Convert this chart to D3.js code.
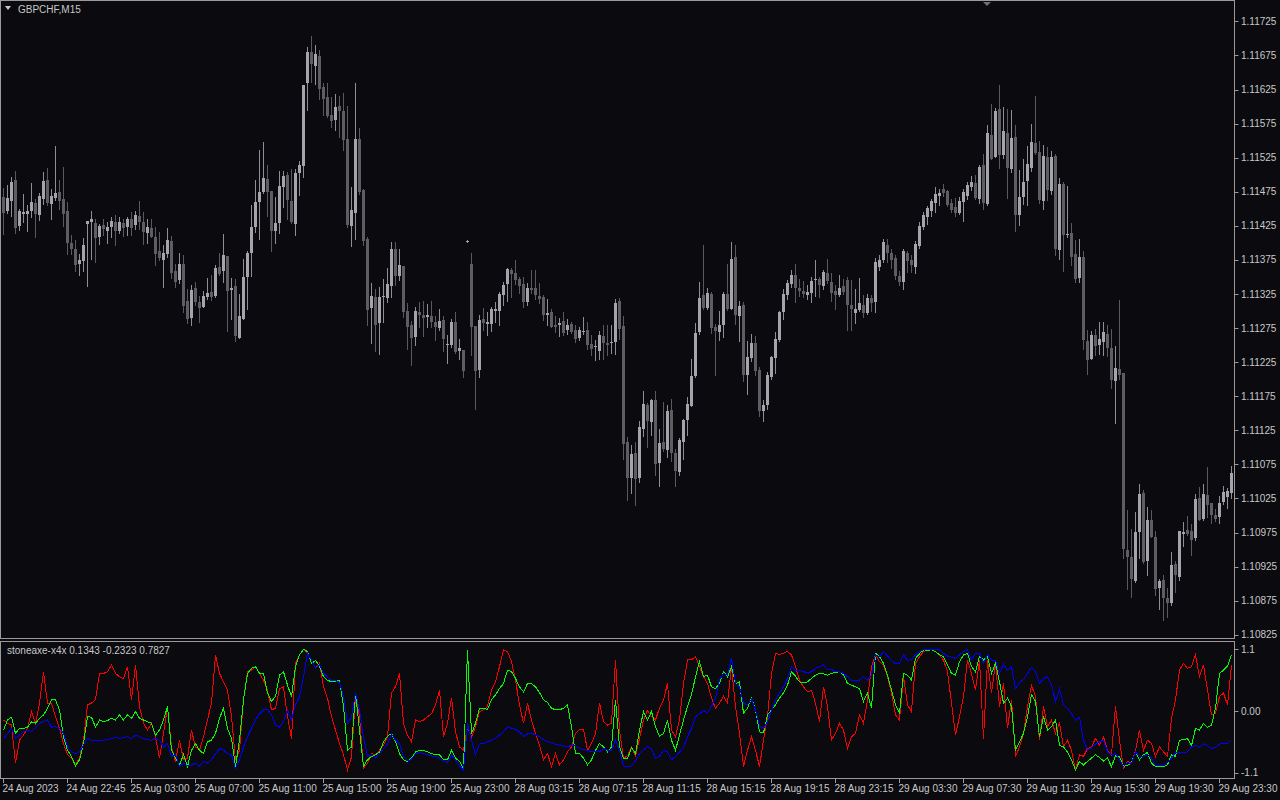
<!DOCTYPE html>
<html><head><meta charset="utf-8">
<script src="https://cdn.jsdelivr.net/npm/d3@7"></script>
<style>html,body{margin:0;padding:0;background:#0a0a0f;overflow:hidden}svg{display:block}</style>
</head><body><svg id="c" width="1280" height="800"></svg>
<script>
const symbol = "GBPCHF,M15";
const indicatorName = "stoneaxe-x4x 0.1343 -0.2323 0.7827";
const open = [
1.11467,1.11447,1.11461,1.11492,1.11425,1.11442,1.11442,1.11447,1.11458,1.11441,
1.11464,1.11492,1.11457,1.11466,1.11475,1.11464,1.11447,1.11400,1.11391,1.11369,
1.11373,1.11428,1.11431,1.11429,1.11409,1.11426,1.11417,1.11423,1.11431,1.11417,
1.11429,1.11423,1.11435,1.11426,1.11439,1.11431,1.11414,1.11422,1.11409,1.11388,
1.11375,1.11384,1.11403,1.11359,1.11346,1.11369,1.11315,1.11290,1.11334,1.11313,
1.11306,1.11321,1.11328,1.11322,1.11365,1.11359,1.11381,1.11331,1.11337,1.11260,
1.11288,1.11350,1.11385,1.11423,1.11460,1.11475,1.11494,1.11476,1.11417,1.11429,
1.11482,1.11500,1.11461,1.11428,1.11502,1.11513,1.11634,1.11680,1.11659,1.11674,
1.11629,1.11614,1.11587,1.11580,1.11601,1.11593,1.11552,1.11425,1.11444,1.11552,
1.11478,1.11406,1.11304,1.11321,1.11282,1.11321,1.11319,1.11337,1.11391,1.11351,
1.11366,1.11300,1.11280,1.11262,1.11299,1.11294,1.11291,1.11293,1.11284,1.11275,
1.11287,1.11250,1.11250,1.11284,1.11241,1.11243,1.11402,1.11369,1.11278,1.11214,
1.11288,1.11281,1.11281,1.11300,1.11300,1.11324,1.11340,1.11360,1.11356,1.11347,
1.11340,1.11313,1.11334,1.11334,1.11322,1.11321,1.11294,1.11299,1.11280,1.11280,
1.11285,1.11272,1.11281,1.11272,1.11260,1.11269,1.11272,1.11252,1.11247,1.11241,
1.11263,1.11253,1.11253,1.11255,1.11315,1.11278,1.11108,1.11055,1.11092,1.11055,
1.11127,1.11162,1.11137,1.11170,1.11077,1.11108,1.11096,1.11155,1.11092,1.11064,
1.11108,1.11140,1.11161,1.11205,1.11269,1.11324,1.11304,1.11325,1.11277,1.11269,
1.11280,1.11325,1.11303,1.11379,1.11293,1.11309,1.11206,1.11231,1.11253,1.11214,
1.11153,1.11162,1.11203,1.11231,1.11258,1.11299,1.11324,1.11340,1.11353,1.11334,
1.11329,1.11324,1.11326,1.11346,1.11347,1.11337,1.11356,1.11343,1.11329,1.11324,
1.11337,1.11346,1.11309,1.11297,1.11302,1.11309,1.11297,1.11319,1.11313,1.11365,
1.11375,1.11397,1.11385,1.11378,1.11351,1.11343,1.11385,1.11375,1.11365,1.11395,
1.11423,1.11438,1.11447,1.11458,1.11469,1.11479,1.11476,1.11458,1.11453,1.11444,
1.11460,1.11469,1.11482,1.11488,1.11464,1.11514,1.11457,1.11558,1.11526,1.11596,
1.11529,1.11561,1.11508,1.11555,1.11441,1.11467,1.11491,1.11510,1.11546,1.11533,
1.11461,1.11526,1.11476,1.11527,1.11390,1.11486,1.11412,1.11414,1.11384,1.11348,
1.11379,1.11256,1.11230,1.11265,1.11250,1.11255,1.11266,1.11246,1.11197,1.11215,
1.11209,1.10950,1.10939,1.10904,1.10976,1.11033,1.10934,1.10994,1.10969,1.10894,
1.10906,1.10879,1.10872,1.10929,1.10910,1.10973,1.10979,1.10977,1.10967,1.11026,
1.10995,1.11030,1.11019,1.11001,1.10998,1.11020,1.11027,1.11033];
const high = [
1.11480,1.11485,1.11497,1.11505,1.11450,1.11472,1.11456,1.11488,1.11464,1.11473,
1.11504,1.11510,1.11479,1.11542,1.11492,1.11511,1.11460,1.11412,1.11404,1.11384,
1.11407,1.11432,1.11447,1.11435,1.11428,1.11435,1.11431,1.11438,1.11441,1.11438,
1.11435,1.11438,1.11445,1.11447,1.11461,1.11445,1.11435,1.11435,1.11423,1.11416,
1.11397,1.11422,1.11410,1.11369,1.11385,1.11382,1.11332,1.11338,1.11343,1.11322,
1.11329,1.11348,1.11353,1.11368,1.11385,1.11413,1.11381,1.11348,1.11347,1.11325,
1.11376,1.11388,1.11456,1.11492,1.11536,1.11548,1.11514,1.11476,1.11467,1.11505,
1.11505,1.11504,1.11508,1.11508,1.11520,1.11631,1.11687,1.11703,1.11690,1.11683,
1.11634,1.11634,1.11614,1.11618,1.11615,1.11620,1.11601,1.11482,1.11634,1.11568,
1.11479,1.11409,1.11341,1.11332,1.11335,1.11347,1.11363,1.11401,1.11401,1.11391,
1.11366,1.11312,1.11285,1.11306,1.11313,1.11315,1.11310,1.11315,1.11293,1.11303,
1.11293,1.11265,1.11288,1.11299,1.11259,1.11243,1.11404,1.11385,1.11278,1.11294,
1.11304,1.11299,1.11306,1.11313,1.11328,1.11343,1.11363,1.11363,1.11375,1.11350,
1.11350,1.11341,1.11360,1.11360,1.11341,1.11324,1.11318,1.11303,1.11293,1.11290,
1.11299,1.11288,1.11284,1.11280,1.11277,1.11291,1.11284,1.11265,1.11258,1.11271,
1.11280,1.11280,1.11280,1.11318,1.11319,1.11293,1.11115,1.11104,1.11108,1.11139,
1.11183,1.11165,1.11171,1.11183,1.11127,1.11167,1.11162,1.11171,1.11098,1.11114,
1.11142,1.11174,1.11230,1.11282,1.11343,1.11397,1.11334,1.11328,1.11281,1.11300,
1.11328,1.11369,1.11401,1.11397,1.11315,1.11313,1.11256,1.11266,1.11263,1.11218,
1.11170,1.11211,1.11234,1.11269,1.11300,1.11332,1.11346,1.11360,1.11369,1.11347,
1.11344,1.11338,1.11350,1.11375,1.11350,1.11360,1.11376,1.11356,1.11338,1.11353,
1.11347,1.11350,1.11346,1.11332,1.11348,1.11324,1.11325,1.11324,1.11378,1.11382,
1.11406,1.11406,1.11391,1.11382,1.11359,1.11391,1.11388,1.11382,1.11403,1.11431,
1.11445,1.11454,1.11464,1.11482,1.11479,1.11486,1.11478,1.11464,1.11466,1.11467,
1.11479,1.11489,1.11498,1.11500,1.11514,1.11530,1.11573,1.11604,1.11598,1.11631,
1.11599,1.11596,1.11595,1.11573,1.11507,1.11523,1.11542,1.11574,1.11615,1.11549,
1.11543,1.11541,1.11535,1.11530,1.11495,1.11489,1.11483,1.11429,1.11404,1.11406,
1.11388,1.11272,1.11271,1.11274,1.11284,1.11284,1.11280,1.11274,1.11249,1.11316,
1.11209,1.11008,1.10980,1.11005,1.11046,1.11038,1.11013,1.11008,1.10977,1.10907,
1.10913,1.10894,1.10947,1.10934,1.10977,1.10991,1.10999,1.10988,1.11032,1.11042,
1.11046,1.11071,1.11019,1.11010,1.11029,1.11043,1.11041,1.11073];
const low = [
1.11413,1.11444,1.11439,1.11414,1.11419,1.11431,1.11417,1.11438,1.11409,1.11434,
1.11457,1.11456,1.11435,1.11463,1.11450,1.11425,1.11384,1.11384,1.11359,1.11353,
1.11359,1.11337,1.11376,1.11372,1.11398,1.11412,1.11400,1.11409,1.11397,1.11414,
1.11410,1.11412,1.11412,1.11420,1.11420,1.11398,1.11400,1.11409,1.11368,1.11375,
1.11335,1.11379,1.11348,1.11335,1.11341,1.11299,1.11282,1.11280,1.11309,1.11284,
1.11306,1.11318,1.11316,1.11321,1.11353,1.11343,1.11271,1.11288,1.11256,1.11260,
1.11288,1.11303,1.11351,1.11416,1.11406,1.11473,1.11439,1.11388,1.11400,1.11414,
1.11453,1.11435,1.11429,1.11412,1.11470,1.11497,1.11595,1.11636,1.11633,1.11611,
1.11587,1.11585,1.11570,1.11565,1.11555,1.11536,1.11423,1.11395,1.11406,1.11472,
1.11397,1.11280,1.11253,1.11241,1.11237,1.11284,1.11313,1.11321,1.11338,1.11346,
1.11291,1.11244,1.11221,1.11250,1.11277,1.11263,1.11277,1.11277,1.11258,1.11272,
1.11241,1.11224,1.11247,1.11239,1.11230,1.11203,1.11401,1.11236,1.11156,1.11203,
1.11272,1.11265,1.11271,1.11284,1.11280,1.11309,1.11315,1.11321,1.11340,1.11326,
1.11306,1.11309,1.11326,1.11318,1.11312,1.11287,1.11280,1.11277,1.11269,1.11263,
1.11265,1.11266,1.11268,1.11255,1.11258,1.11266,1.11244,1.11236,1.11228,1.11230,
1.11230,1.11236,1.11238,1.11237,1.11259,1.11083,1.11023,1.11033,1.11016,1.11049,
1.11117,1.11101,1.11118,1.11060,1.11043,1.11095,1.11086,1.11080,1.11043,1.11060,
1.11083,1.11118,1.11161,1.11203,1.11266,1.11303,1.11303,1.11268,1.11206,1.11258,
1.11262,1.11302,1.11303,1.11281,1.11256,1.11197,1.11178,1.11227,1.11206,1.11146,
1.11139,1.11156,1.11200,1.11209,1.11256,1.11288,1.11318,1.11335,1.11313,1.11322,
1.11321,1.11318,1.11313,1.11322,1.11321,1.11332,1.11341,1.11315,1.11303,1.11322,
1.11325,1.11272,1.11272,1.11282,1.11300,1.11291,1.11296,1.11300,1.11299,1.11360,
1.11372,1.11372,1.11363,1.11347,1.11338,1.11332,1.11357,1.11357,1.11356,1.11392,
1.11420,1.11428,1.11439,1.11445,1.11456,1.11469,1.11454,1.11445,1.11439,1.11442,
1.11432,1.11464,1.11478,1.11464,1.11458,1.11450,1.11456,1.11523,1.11526,1.11510,
1.11524,1.11466,1.11504,1.11417,1.11426,1.11457,1.11456,1.11505,1.11530,1.11458,
1.11450,1.11463,1.11472,1.11382,1.11376,1.11359,1.11409,1.11368,1.11343,1.11343,
1.11244,1.11208,1.11230,1.11236,1.11237,1.11236,1.11234,1.11187,1.11136,1.11200,
1.10938,1.10892,1.10881,1.10903,1.10938,1.10931,1.10913,1.10969,1.10884,1.10863,
1.10846,1.10851,1.10869,1.10888,1.10906,1.10956,1.10972,1.10942,1.10964,1.10994,
1.10994,1.10998,1.10989,1.10992,1.10989,1.11017,1.11011,1.11026];
const close = [
1.11444,1.11466,1.11489,1.11422,1.11447,1.11445,1.11447,1.11460,1.11442,1.11469,
1.11491,1.11458,1.11469,1.11473,1.11461,1.11442,1.11400,1.11391,1.11368,1.11375,
1.11397,1.11432,1.11435,1.11407,1.11425,1.11420,1.11423,1.11432,1.11417,1.11431,
1.11422,1.11435,1.11422,1.11441,1.11431,1.11416,1.11423,1.11409,1.11384,1.11378,
1.11385,1.11404,1.11356,1.11343,1.11369,1.11307,1.11288,1.11331,1.11313,1.11304,
1.11322,1.11326,1.11321,1.11363,1.11354,1.11382,1.11329,1.11334,1.11263,1.11293,
1.11350,1.11385,1.11423,1.11460,1.11475,1.11495,1.11475,1.11417,1.11429,1.11483,
1.11498,1.11463,1.11431,1.11502,1.11514,1.11631,1.11680,1.11662,1.11677,1.11626,
1.11611,1.11586,1.11579,1.11599,1.11593,1.11551,1.11426,1.11448,1.11552,1.11475,
1.11403,1.11302,1.11322,1.11280,1.11321,1.11322,1.11340,1.11391,1.11351,1.11368,
1.11299,1.11277,1.11260,1.11300,1.11294,1.11290,1.11294,1.11284,1.11277,1.11285,
1.11259,1.11252,1.11284,1.11240,1.11246,1.11212,1.11403,1.11277,1.11212,1.11287,
1.11282,1.11284,1.11303,1.11303,1.11325,1.11338,1.11362,1.11354,1.11346,1.11337,
1.11313,1.11334,1.11331,1.11324,1.11318,1.11294,1.11297,1.11277,1.11277,1.11282,
1.11268,1.11280,1.11269,1.11259,1.11272,1.11271,1.11250,1.11244,1.11249,1.11265,
1.11253,1.11250,1.11255,1.11312,1.11274,1.11105,1.11055,1.11090,1.11054,1.11130,
1.11164,1.11139,1.11170,1.11076,1.11107,1.11098,1.11153,1.11092,1.11065,1.11111,
1.11140,1.11164,1.11205,1.11268,1.11319,1.11304,1.11326,1.11275,1.11271,1.11280,
1.11325,1.11303,1.11376,1.11294,1.11307,1.11206,1.11233,1.11253,1.11212,1.11153,
1.11162,1.11206,1.11233,1.11259,1.11299,1.11325,1.11341,1.11353,1.11334,1.11329,
1.11325,1.11328,1.11344,1.11347,1.11338,1.11357,1.11344,1.11326,1.11324,1.11334,
1.11328,1.11309,1.11303,1.11303,1.11312,1.11297,1.11319,1.11312,1.11372,1.11375,
1.11401,1.11385,1.11375,1.11351,1.11343,1.11388,1.11373,1.11368,1.11398,1.11425,
1.11441,1.11451,1.11461,1.11472,1.11473,1.11473,1.11456,1.11448,1.11444,1.11461,
1.11475,1.11485,1.11489,1.11466,1.11511,1.11458,1.11561,1.11523,1.11593,1.11529,
1.11564,1.11510,1.11554,1.11441,1.11467,1.11489,1.11516,1.11548,1.11532,1.11463,
1.11527,1.11478,1.11526,1.11391,1.11486,1.11412,1.11413,1.11379,1.11347,1.11379,
1.11258,1.11228,1.11265,1.11249,1.11259,1.11269,1.11246,1.11199,1.11216,1.11206,
1.10951,1.10939,1.10907,1.10976,1.11032,1.10932,1.10994,1.10969,1.10892,1.10904,
1.10879,1.10872,1.10928,1.10913,1.10977,1.10976,1.10973,1.10964,1.11024,1.10994,
1.11032,1.11016,1.11001,1.10995,1.11019,1.11035,1.11036,1.11063];
const redLine = [
-0.16,-0.22,-0.25,-0.93,-0.52,-0.43,-0.31,-0.01,-0.22,0.14,
0.70,0.14,0.14,-0.10,-0.31,-0.58,-0.78,-0.84,-0.96,-0.84,
-0.52,0.11,0.14,0.20,0.67,0.67,0.70,0.82,0.67,0.61,
0.58,0.79,0.20,0.82,0.08,-0.22,-0.34,-0.22,-0.46,-0.84,
-0.40,0.08,-0.64,-0.90,-0.52,-0.87,-0.84,-0.34,-0.64,-0.70,
-0.46,-0.16,0.14,1.00,0.67,0.52,0.37,-0.10,-0.87,-0.70,
0.20,0.70,0.73,0.79,0.67,0.55,0.37,0.02,0.05,0.40,
0.43,-0.10,-0.49,0.85,1.00,1.10,1.03,0.91,0.76,0.85,
0.43,0.23,-0.10,-0.34,-0.58,-0.78,-1.05,-0.82,0.26,-0.10,
-1.02,-0.93,-0.76,-0.78,-0.70,-0.61,-0.46,0.32,0.43,0.67,
-0.22,-0.43,-0.55,-0.16,-0.19,-0.16,-0.10,-0.05,0.11,0.37,
-0.46,-0.22,0.23,-0.37,-0.64,-0.70,-0.28,-0.46,-0.28,-0.01,
0.02,0.08,0.37,0.52,0.79,1.09,1.06,0.88,0.55,0.11,
-0.22,0.14,-0.16,-0.40,-0.61,-0.87,-0.76,-0.99,-0.76,-0.96,
-0.87,-0.73,-0.64,-0.40,-0.33,-0.33,-0.70,-0.58,-0.40,0.14,
-0.19,-0.25,-0.22,0.91,-0.34,-0.84,-0.80,-0.64,-0.80,-0.49,
-0.16,0.01,-0.10,-0.16,0.05,0.20,0.49,-0.34,-0.46,-0.16,
0.49,0.91,0.91,0.97,0.79,0.61,0.49,0.23,0.05,0.14,
0.26,0.14,0.79,0.08,-0.40,-0.99,-0.70,-0.46,-0.70,-0.99,
-0.52,-0.10,0.67,1.03,1.01,1.03,1.06,1.00,0.79,0.55,
0.43,0.34,0.37,0.14,-0.19,0.43,0.08,-0.52,-0.40,-0.22,
-0.34,-0.67,-0.46,-0.40,-0.07,-0.22,0.20,0.79,1.01,0.88,
0.82,0.61,0.32,-0.07,-0.16,0.61,0.11,-0.01,0.85,0.97,
1.06,1.08,1.09,1.06,1.00,0.91,0.70,0.14,-0.43,-0.10,
0.26,0.91,0.67,0.37,0.91,-0.49,0.91,0.32,0.85,0.08,
0.49,-0.31,0.20,-0.81,-0.64,-0.40,0.08,0.46,0.26,-0.52,
0.08,-0.28,-0.16,-0.40,-0.22,-0.64,-0.52,-0.70,-1.05,-0.78,
-0.81,-0.67,-0.64,-0.49,-0.61,-0.46,-0.70,-0.78,0.08,-0.52,
-1.02,-0.90,-0.93,-0.70,-0.34,-0.70,-0.52,-0.58,-0.81,-0.64,
-0.73,-0.81,-0.13,0.20,0.73,0.85,0.76,0.79,1.00,0.61,
0.82,0.37,-0.07,-0.04,0.26,0.32,0.11,0.82];
const greenLine = [
-0.34,-0.16,-0.11,-0.40,-0.31,-0.31,-0.29,-0.19,-0.22,-0.13,
-0.07,0.05,0.20,0.20,0.02,-0.46,-0.70,-0.81,-0.98,-0.87,
-0.58,-0.10,-0.11,-0.29,-0.16,-0.19,-0.17,-0.13,-0.16,-0.07,
-0.16,-0.07,-0.13,-0.01,-0.13,-0.16,-0.19,-0.22,-0.43,-0.34,
-0.16,0.08,-0.70,-0.84,-0.96,-0.78,-0.99,-0.70,-0.58,-0.70,
-0.76,-0.55,-0.52,-0.40,-0.13,0.05,-0.31,-0.49,-0.99,-0.52,
0.20,0.67,0.76,0.79,0.67,0.67,0.32,0.17,0.26,0.64,
0.70,0.46,0.26,0.79,1.00,1.10,1.06,0.85,0.90,0.80,
0.61,0.55,0.52,0.52,0.55,0.08,-0.70,-0.64,0.32,-0.34,
-0.99,-0.87,-0.81,-0.78,-0.73,-0.55,-0.45,-0.40,-0.55,-0.76,
-0.87,-0.90,-0.84,-0.73,-0.70,-0.70,-0.73,-0.76,-0.78,-0.78,
-0.87,-0.87,-0.70,-0.84,-0.90,-1.02,1.09,-0.40,-0.22,0.05,
0.05,0.03,0.20,0.29,0.40,0.49,0.73,0.70,0.58,0.43,
0.34,0.49,0.49,0.43,0.33,0.20,0.15,0.05,0.02,0.02,
0.05,0.11,-0.28,-0.76,-0.76,-0.84,-0.96,-0.87,-0.70,-0.58,
-0.64,-0.73,-0.64,0.20,-0.64,-0.84,-0.85,-0.65,-0.76,-0.34,
-0.01,-0.16,-0.01,-0.28,-0.45,-0.40,-0.16,-0.52,-0.70,-0.43,
-0.16,0.08,0.29,0.61,0.88,0.61,0.64,0.43,0.40,0.49,
0.70,0.61,0.79,0.49,0.52,-0.04,0.05,0.23,0.02,-0.37,
-0.39,-0.07,0.02,0.11,0.23,0.32,0.46,0.70,0.62,0.52,
0.50,0.52,0.58,0.64,0.67,0.66,0.64,0.67,0.69,0.70,
0.64,0.49,0.46,0.43,0.40,0.17,0.32,0.05,1.03,0.97,
0.85,0.64,0.37,0.11,-0.04,0.67,0.64,0.55,0.94,1.02,
1.09,1.08,1.09,1.06,1.00,0.97,0.82,0.67,0.64,0.88,
1.00,1.03,0.79,0.70,0.97,0.91,0.97,0.67,0.85,0.52,
0.14,0.23,0.08,-0.70,-0.55,-0.40,-0.10,0.29,0.17,-0.46,
-0.10,-0.34,-0.28,-0.16,-0.61,-0.64,-0.73,-0.87,-1.05,-0.90,
-0.96,-0.90,-0.84,-0.78,-0.83,-0.89,-0.84,-0.99,-0.80,-0.81,
-0.99,-0.97,-0.92,-0.73,-0.87,-0.78,-0.74,-0.93,-0.99,-0.99,
-0.99,-0.96,-0.78,-0.81,-0.52,-0.51,-0.49,-0.62,-0.31,-0.34,
-0.22,-0.29,-0.25,0.05,0.67,0.73,0.80,1.00];
const blueLine = [
-0.49,-0.40,-0.31,-0.49,-0.43,-0.37,-0.34,-0.37,-0.29,-0.22,
-0.19,-0.16,-0.29,-0.28,-0.31,-0.40,-0.64,-0.73,-0.76,-0.73,
-0.61,-0.49,-0.52,-0.53,-0.52,-0.52,-0.51,-0.49,-0.47,-0.49,
-0.47,-0.46,-0.49,-0.43,-0.46,-0.49,-0.51,-0.52,-0.49,-0.52,
-0.64,-0.58,-0.81,-0.78,-0.99,-0.93,-0.98,-0.96,-0.93,-0.98,
-0.90,-0.93,-0.87,-0.76,-0.67,-0.70,-0.76,-0.78,-1.02,-0.87,
-0.64,-0.46,-0.31,-0.16,-0.05,0.02,0.03,-0.07,-0.25,-0.29,
-0.19,0.02,-0.16,0.11,0.26,0.61,1.03,0.91,0.76,0.82,
0.68,0.60,0.54,0.54,0.51,0.26,-0.22,-0.11,0.32,0.02,
-0.46,-0.81,-0.78,-0.84,-0.76,-0.67,-0.59,-0.41,-0.52,-0.58,
-0.81,-0.89,-0.86,-0.76,-0.74,-0.76,-0.78,-0.80,-0.81,-0.84,
-0.89,-0.92,-0.78,-0.87,-0.98,-1.05,-0.22,-0.52,-0.78,-0.59,
-0.58,-0.55,-0.52,-0.49,-0.43,-0.37,-0.28,-0.31,-0.33,-0.37,
-0.46,-0.41,-0.40,-0.42,-0.46,-0.51,-0.55,-0.56,-0.59,-0.61,
-0.62,-0.64,-0.61,-0.62,-0.67,-0.69,-0.70,-0.73,-0.73,-0.73,
-0.67,-0.70,-0.70,-0.52,-0.70,-0.98,-0.99,-0.98,-0.89,-0.76,
-0.69,-0.64,-0.67,-0.84,-0.81,-0.70,-0.73,-0.87,-0.81,-0.73,
-0.65,-0.46,-0.31,-0.10,-0.05,0.01,-0.03,0.08,0.23,0.55,
0.67,0.64,0.94,0.49,0.43,0.14,0.11,0.21,0.02,-0.27,
-0.31,-0.19,0.01,0.20,0.32,0.43,0.58,0.79,0.73,0.72,
0.70,0.68,0.70,0.76,0.79,0.82,0.74,0.74,0.70,0.70,
0.67,0.61,0.55,0.54,0.55,0.61,0.55,0.64,1.00,0.97,
1.06,0.98,0.90,0.84,0.85,1.00,0.90,0.92,1.00,1.06,
1.09,1.09,1.09,1.09,1.09,1.03,0.98,0.96,0.94,1.00,
1.06,1.09,0.91,1.03,1.03,0.85,1.00,0.91,0.90,0.67,
0.84,0.72,0.79,0.40,0.51,0.56,0.67,0.78,0.70,0.49,
0.58,0.61,0.46,0.17,0.39,0.11,0.05,-0.05,-0.16,-0.11,
-0.52,-0.70,-0.65,-0.59,-0.55,-0.52,-0.73,-0.78,-0.76,-0.87,
-0.99,-0.92,-0.94,-0.73,-0.81,-0.80,-0.78,-0.83,-0.98,-0.98,
-0.96,-0.92,-0.84,-0.74,-0.74,-0.74,-0.73,-0.64,-0.61,-0.65,
-0.58,-0.62,-0.67,-0.65,-0.59,-0.58,-0.58,-0.51];
const priceTicks = [1.11725,1.11675,1.11625,1.11575,1.11525,1.11475,1.11425,1.11375,1.11325,1.11275,1.11225,1.11175,1.11125,1.11075,1.11025,1.10975,1.10925,1.10875,1.10825];
const indTicks = [1.1, 0, -1.1];
const indTickLabels = ["1.1", "0.00", "-1.1"];
const timeLabels = ["24 Aug 2023","24 Aug 22:45","25 Aug 03:00","25 Aug 07:00","25 Aug 11:00","25 Aug 15:00","25 Aug 19:00","25 Aug 23:00","28 Aug 03:15","28 Aug 07:15","28 Aug 11:15","28 Aug 15:15","28 Aug 19:15","28 Aug 23:15","29 Aug 03:30","29 Aug 07:30","29 Aug 11:30","29 Aug 15:30","29 Aug 19:30","29 Aug 23:30"];
const timeLabelBars = [0,16,32,48,64,80,96,112,128,144,160,176,192,208,224,240,256,272,288,304];

const N = close.length;
const svg = d3.select("#c");
const FONT = "Liberation Sans, Arial, sans-serif";
const axisX = 1234.5;
const textCol = "#c8c8c8";
const frameCol = "#9a9a9a";

const x = d3.scaleLinear().domain([0, N - 1]).range([3.5, 3.5 + 4 * (N - 1)]);
const y = d3.scaleLinear().domain([1.10825, 1.11725]).range([634.8, 21.4]);
const yi = d3.scaleLinear().domain([-1.1, 1.1]).range([772.7, 649.3]);

svg.append("rect").attr("width", 1280).attr("height", 800).attr("fill", "#0a0a0f");

// frames
const frame = svg.append("g").attr("fill", "none").attr("stroke", frameCol).attr("stroke-width", 1).attr("shape-rendering", "crispEdges");
frame.append("path").attr("d", `M0.5,0.5 H${axisX} V638.5 H0.5 Z`);
frame.append("path").attr("d", `M0.5,641.5 H${axisX} V778.5 H0.5 Z`);

// candles
const idx = d3.range(N);
const cg = svg.append("g").attr("shape-rendering", "crispEdges");
cg.selectAll("rect.w").data(idx).join("rect")
  .attr("x", i => x(i) - 0.5).attr("width", 1)
  .attr("y", i => Math.round(y(high[i])))
  .attr("height", i => Math.max(1, Math.round(y(low[i])) - Math.round(y(high[i])) + 1))
  .attr("fill", i => close[i] >= open[i] ? "#8e8e96" : "#5a5a5e");
cg.selectAll("rect.b").data(idx).join("rect")
  .attr("x", i => x(i) - 1.5).attr("width", 3)
  .attr("y", i => Math.round(y(Math.max(open[i], close[i]))))
  .attr("height", i => Math.max(1, Math.round(y(Math.min(open[i], close[i]))) - Math.round(y(Math.max(open[i], close[i])))))
  .attr("fill", i => close[i] >= open[i] ? "#a4a4ac" : "#5e5e62");

// indicator lines
const line = d3.line().x((d, i) => x(i)).y(d => yi(d));
const ig = svg.append("g").attr("fill", "none").attr("stroke-width", 1).attr("shape-rendering", "crispEdges");
ig.append("path").datum(redLine).attr("d", line).attr("stroke", "#ff0000");
ig.append("path").datum(greenLine).attr("d", line).attr("stroke", "#00ff00");
ig.append("path").datum(blueLine).attr("d", line).attr("stroke", "#0000ff");

// price axis
const pa = svg.append("g").attr("font-family", FONT).attr("font-size", 10).attr("fill", textCol);
pa.selectAll("line").data(priceTicks).join("line")
  .attr("x1", axisX).attr("x2", axisX + 4)
  .attr("y1", d => Math.round(y(d)) + 0.5).attr("y2", d => Math.round(y(d)) + 0.5)
  .attr("stroke", frameCol);
pa.selectAll("text").data(priceTicks).join("text")
  .attr("x", 1241).attr("y", d => y(d)).attr("dy", "0.35em")
  .text(d => d.toFixed(5));
const iaxis = svg.append("g").attr("font-family", FONT).attr("font-size", 10).attr("fill", textCol);
iaxis.selectAll("line").data(indTicks).join("line")
  .attr("x1", axisX).attr("x2", axisX + 4)
  .attr("y1", d => Math.round(yi(d)) + 0.5).attr("y2", d => Math.round(yi(d)) + 0.5)
  .attr("stroke", frameCol);
iaxis.selectAll("text").data(indTicks).join("text")
  .attr("x", 1241).attr("y", d => yi(d)).attr("dy", "0.35em")
  .text((d, k) => indTickLabels[k]);

// time axis
const ta = svg.append("g").attr("font-family", FONT).attr("font-size", 10).attr("fill", textCol);
ta.selectAll("line").data(timeLabelBars).join("line")
  .attr("x1", b => x(b)).attr("x2", b => x(b)).attr("y1", 778.5).attr("y2", 783)
  .attr("stroke", frameCol);
ta.selectAll("text").data(timeLabelBars).join("text")
  .attr("x", b => x(b) - 1).attr("y", 792)
  .text((b, k) => timeLabels[k]);

// labels
svg.append("path").attr("d", "M5,6 L11,6 L8,10 Z").attr("fill", textCol);
svg.append("text").attr("x", 18).attr("y", 13).attr("font-family", FONT).attr("font-size", 10).attr("fill", textCol).text(symbol);
svg.append("text").attr("x", 7).attr("y", 654).attr("font-family", FONT).attr("font-size", 10).attr("fill", textCol).text(indicatorName);
svg.append("path").attr("d", "M983,2 L991,2 L987,6 Z").attr("fill", "#707070");
</script></body></html>
